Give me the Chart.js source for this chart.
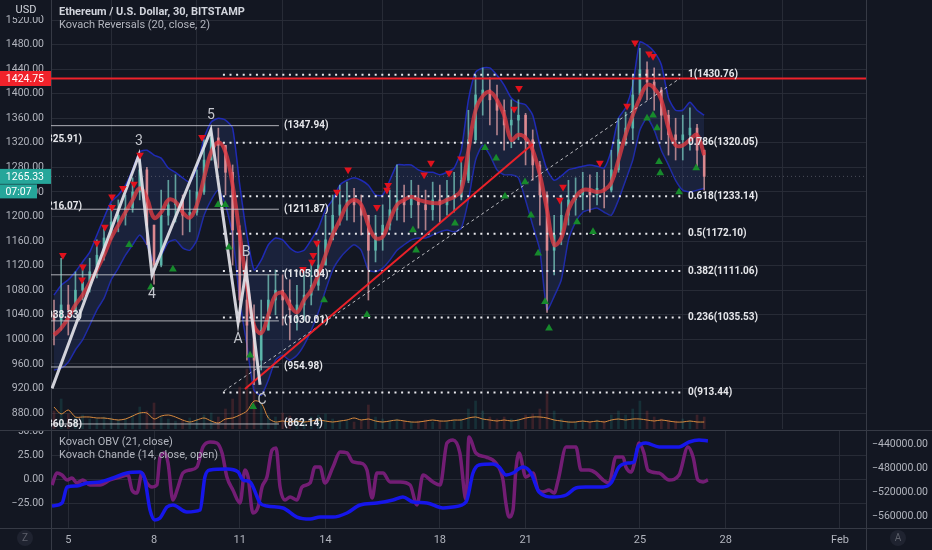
<!DOCTYPE html>
<html>
<head>
<meta charset="utf-8">
<script src="https://cdn.jsdelivr.net/npm/chart.js@4.4.1/dist/chart.umd.min.js"></script>
<style>
  html, body { margin: 0; padding: 0; background: #131722; }
  #wrap { position: relative; width: 932px; height: 550px; overflow: hidden; background: #131722; }
  #main { position: absolute; left: 0; top: 0; }
  #sub { position: absolute; left: 0; top: 430px; }
</style>
</head>
<body>
<div id="wrap">
  <canvas id="main" width="932" height="430"></canvas>
  <canvas id="sub" width="932" height="120"></canvas>
</div>
<script>
// ---- axes / categories ----
const dayTicks = [5, 8, 11, 14, 18, 21, 25, 28, 32];
const dayLabels = ['5', '8', '11', '14', '18', '21', '25', '28', 'Feb'];
const priceTicks = [880, 920, 960, 1000, 1040, 1080, 1120, 1160, 1200, 1240, 1280, 1320, 1360, 1400, 1440, 1480, 1520];
const chandeTicks = [50, 25, 0, -25];
const obvTicks = [-440000, -480000, -520000, -560000];

// ---- ETH/USD, 6h steps from Jan 4.5 ----
const firstOpen = 1040;
const closes = [1031,1056,1048,1080,1093,1110,1137,1165,1191,1202, 1214,1240,1276,1186,1121,1202,1219,1227,1202,1207,
  1240,1292,1328,1316,1272,1178,1064,1023,966,1015, 1064,1080,1064,1048,1056,1072,1088,1121,1162,1202,
  1219,1227,1219,1202,1145,1170,1186,1211,1227,1219, 1230,1219,1211,1227,1219,1230,1235,1259,1325,1398,
  1406,1390,1373,1349,1357,1365,1325,1284,1235,1145, 1170,1202,1227,1235,1243,1235,1246,1243,1276,1325,
  1344,1398,1439,1419,1406,1365,1333,1325,1333,1344, 1308,1265.33];
const highs = [1064,1132,1088,1110,1121,1132,1162,1185,1219,1227, 1235,1263,1300,1280,1186,1243,1259,1268,1235,1243,
  1276,1325,1344,1344,1316,1284,1185,1137,1056,1064, 1105,1113,1105,1097,1088,1105,1129,1162,1202,1235,
  1251,1256,1246,1235,1202,1202,1219,1243,1284,1251, 1259,1251,1243,1256,1251,1259,1272,1292,1373,1430,
  1442,1426,1414,1390,1390,1390,1368,1341,1290,1240, 1202,1235,1259,1263,1272,1268,1272,1276,1308,1360,
  1370,1430,1474,1452,1442,1410,1373,1360,1365,1377, 1350,1308];
const lows = [991,1015,1007,1044,1064,1077,1100,1129,1162,1175, 1186,1207,1227,1154,1090,1118,1186,1191,1170,1175,
  1202,1236,1292,1279,1235,1121,1028,966,926,950, 1015,1040,1023,999,1015,1031,1056,1080,1121,1162,
  1186,1194,1191,1170,1064,1126,1145,1178,1194,1191, 1198,1181,1178,1194,1191,1202,1207,1227,1255,1320,
  1365,1349,1333,1308,1312,1325,1284,1259,1186,1044, 1105,1154,1186,1202,1211,1207,1219,1214,1240,1272,
  1316,1325,1390,1390,1373,1325,1300,1292,1292,1308, 1279,1243];
const maLine = [1007,1018,1035,1056,1072,1092,1113,1137,1165,1186, 1207,1227,1246,1230,1198,1207,1227,1224,1207,1198,
  1219,1263,1305,1321,1305,1251,1170,1088,1023,1010, 1040,1072,1075,1056,1044,1064,1080,1105,1137,1170,
  1194,1219,1227,1219,1186,1165,1167,1194,1219,1227, 1232,1227,1224,1222,1222,1227,1232,1243,1308,1373,
  1396,1403,1390,1365,1325,1333,1328,1308,1268,1211, 1154,1165,1211,1232,1243,1243,1240,1243,1255,1292,
  1333,1365,1393,1414,1409,1390,1344,1316,1316,1325, 1333,1300];
const bandUpper = [1072,1088,1097,1110,1126,1142,1170,1198,1224,1235, 1251,1276,1305,1308,1300,1295,1279,1272,1263,1256,
  1279,1328,1354,1360,1357,1344,1251,1170,1113,1129, 1154,1165,1162,1149,1142,1145,1162,1181,1211,1227,
  1251,1259,1263,1259,1251,1235,1235,1259,1284,1284, 1284,1276,1272,1272,1268,1272,1279,1308,1390,1435,
  1442,1442,1430,1414,1393,1385,1382,1365,1316,1276, 1259,1266,1276,1279,1282,1284,1282,1279,1308,1360,
  1377,1414,1484,1479,1468,1447,1393,1373,1373,1386, 1373,1365];
const bandLower = [950,953,963,983,999,1023,1048,1067,1097,1116, 1137,1154,1170,1154,1126,1137,1158,1162,1149,1145,
  1162,1202,1227,1243,1219,1170,1064,991,917,909, 934,966,974,966,974,991,1015,1044,1080,1113,
  1132,1145,1154,1145,1113,1110,1116,1129,1145,1154, 1162,1165,1165,1170,1175,1178,1175,1181,1227,1292,
  1316,1300,1276,1268,1268,1263,1227,1186,1145,1048, 1070,1097,1162,1191,1207,1211,1214,1207,1202,1227,
  1259,1292,1341,1360,1341,1308,1284,1259,1243,1240, 1243,1246];
const volumes = [1800,3000,1500,1200,1400,1000, 1000,1200,1100,900,1000,1400, 2200,1800,2600,1200,1000,800,
  900,1100,1000,1400,1600,1200, 2000,3000,4200,6000,5000,2500, 1400,1200,1600,1300,1000,900,
  1200,1400,1500,1000,800,800, 700,800,2400,1200,1000,800, 1000,800,700,800,900,700,
  800,700,800,1000,2000,2800, 1800,1200,1000,1200,1000,1000, 1400,1500,2000,3800,1800,1000,
  800,700,800,700,900,800, 1400,1800,1400,2000,2800,1800, 1200,1000,900,800,1000,800, 1400,1200];
const volumeMA = [2200,1500,1900,1200,1200,1200,1100,1100,1000,900, 1000,1300,1600,1600,1000,1300,1400,1200,900,700,
  900,1100,800,600,1000,1100,1400,1800,2800,2600, 1100,700,800,700,800,700,800,900,800,700,
  800,900,1100,900,1000,800,700,800,900,800, 700,700,800,900,800,800,900,900,1100,1200,
  1000,900,800,900,800,900,1100,1200,1200,1100, 900,800,700,700,800,700,800,700,900,1000,
  900,1000,1000,900,800,900,800,700,700,800, 700,700];

// ---- Kovach Reversals markers ----
const sellDays = [4.81,5.51,5.48,6.00,6.28,6.53,6.53,6.91,7.30,7.51, 9.68,13.21,13.53,13.57,13.70,14.40,14.79,15.80,16.15,16.19,
  17.45,17.69,18.32,18.74,20.60,20.77,22.20,22.31,23.60,24.55, 24.83,25.32,25.46];
const sellPrices = [1137,1118,1097,1157,1183,1215,1232,1246,1253,1300, 1329,1114,1126,1137,1157,1240,1276,1215,1243,1251,
  1268,1287,1271,1294,1375,1409,1227,1248,1287,1380, 1483,1465,1461];
const buyDays = [7.13,7.89,8.66,10.24,10.49,10.62,11.36,11.47,13.95,15.45, 17.06,17.17,18.53,19.58,19.97,20.28,20.98,21.19,21.44,21.68,
  21.82,22.80,23.36,25.25,25.46,25.60,25.67,25.71,26.37,26.97];
const buyPrices = [1154,1085,1114,1219,1219,1150,974,890,1064,1040, 1178,1145,1189,1312,1295,1233,1256,1202,1140,1061,
  1018,1191,1175,1360,1365,1344,1289,1271,1240,1279];

// ---- drawings ----
const waveDays = [4.43, 7.47, 7.93, 9.99, 10.94, 11.22, 11.71];
const wavePrices = [920, 1300, 1105, 1341, 1027, 1113, 926];
const waveNames = ['', '3', '4', '5', 'A', 'B', 'C'];
const trendDays = [11.18, 21.25];
const trendPrices = [919, 1318];
const channelDays = [10.45, 26.40];
const channelPrices = [916, 1425];
const fibRatios = ['1', '0.786', '0.618', '0.5', '0.382', '0.236', '0'];
const fibPrices = [1430.76, 1320.05, 1233.14, 1172.10, 1111.06, 1035.53, 913.44];
const levelPrices = [1347.94, 1211.87, 1105.04, 1030.01, 954.98, 862.14];
const leftCutPrices = [1325.91, 1216.07, 1038.33, 860.58];
const alertPrice = 1424.75;
const lastPrice = 1265.33;
const countdown = '07:07';

// ---- lower pane ----
const chandeDays = [4.43,4.60,4.78,4.96,5.13,5.30,5.51,5.76,6.11,6.46, 6.81,7.09,7.23,7.40,7.58,7.75,7.93,8.10,8.21,8.38,
  8.49,8.66,8.84,9.01,9.26,9.50,9.71,9.96,10.20,10.38, 10.55,10.76,11.01,11.18,11.29,11.46,11.64,11.78,11.95,12.13,
  12.27,12.41,12.58,12.76,13.00,13.18,13.46,13.63,13.81,13.98, 14.26,14.51,14.75,14.96,15.21,15.45,15.63,15.80,16.01,16.26,
  16.61,16.96,17.20,17.41,17.76,18.01,18.25,18.46,18.70,18.92, 19.02,19.26,19.62,19.96,20.21,20.31,20.42,20.56,20.66,20.77,
  21.01,21.26,21.44,21.61,21.82,22.00,22.14,22.42,22.76,22.94, 23.22,23.46,23.71,23.92,24.16,24.41,24.51,24.69,24.86,24.97,
  25.14,25.28,25.67,26.02,26.37,26.68,26.86,27.03,27.21,27.38];
const chandeVals = [-5.9,6.5,4.4,-0.7,1.3,-3.8,-0.7,-5.9,-5.9,-0.7, 2.4,4.4,-11.1,-14.2,6.5,-3.8,-8.0,-5.9,23.0,27.2,
  16.8,-21.4,-8.0,6.5,9.6,12.7,33.4,38.6,37.5,27.2, 2.4,-11.1,-24.5,9.6,2.4,-34.8,-28.6,-8.0,2.4,30.3,
  32.3,-8.0,-21.4,-18.3,-21.4,-8.0,-3.8,12.7,12.7,-3.8, 12.7,28.2,27.2,17.9,16.8,9.6,-19.3,6.5,6.5,-2.8,
  -2.8,-5.9,-26.5,4.4,-2.8,-5.9,37.5,40.6,27.2,-21.4, 43.7,27.2,23.0,16.8,-0.7,-24.5,-38.9,-31.7,9.6,27.2,
  2.4,6.5,-11.1,-13.1,-11.1,-14.2,-0.7,33.4,33.4,9.6, 9.6,6.5,-0.7,-3.8,23.0,23.0,12.7,7.5,23.0,37.5,
  27.2,9.6,6.5,-0.7,4.4,33.4,23.0,-0.7,-2.8,-0.7];
const obvDays = [4.43,4.78,4.96,5.30,5.65,6.11,6.56,7.05,7.51,7.68, 7.86,8.03,8.21,8.45,8.66,9.15,9.61,9.78,9.96,10.55,
  10.94,11.11,11.36,11.71,11.95,12.51,13.00,13.46,13.81,14.26, 14.75,15.21,15.80,16.36,16.71,17.06,17.55,18.11,18.46,18.92,
  19.16,19.37,19.86,20.07,20.32,20.56,20.91,21.19,21.47,21.96, 22.42,22.76,23.11,23.71,23.99,24.27,24.62,24.79,24.93,25.21,
  25.67,26.37,26.72,27.07,27.38];
const obvVals = [-542600,-537600,-511000,-509400,-504400,-502700,-496100,-487800,-486100,-499400,
  -549200,-565800,-562500,-544300,-540900,-552500,-549200,-494400,-482800,-481200,
  -486100,-499400,-502700,-537600,-542600,-545900,-560900,-564200,-560900,-560900,
  -554200,-540900,-537600,-532600,-527600,-535900,-537600,-545900,-544300,-535900,
  -487800,-474500,-472900,-477800,-491100,-487800,-477800,-487800,-519300,-527600,
  -524300,-512700,-511000,-511000,-504400,-477800,-471200,-469500,-444600,-438000,
  -444600,-444600,-436300,-433000,-434600];

// ---- view ----
const xMin = 4.395, xMax = 32.911;
const fibStart = 10.41, fibEnd = 26.54, fibLabelDay = 26.68;
const levelEnd = 12.37, levelLabelDay = 12.55, leftCutDay = 5.48;

const times = closes.map((_, i) => 4.5 + i * 0.25);
const opens = closes.map((c, i) => (i === 0 ? firstOpen : closes[i - 1]));

const FONT = "Roboto, 'Noto Sans', sans-serif";
const gridColor = 'rgba(42,46,57,0.9)';
const axisColor = '#363a45';
const textColor = '#b2b5be';
Chart.defaults.font.family = FONT;
Chart.defaults.color = textColor;

const xy = (xs, ys) => xs.map((x, i) => ({ x: x, y: ys[i] }));
const span = (xs, a, b) => xs.map((x, i) => ({ x: x, y: [a[i], b[i]] }));
const hline = (p, d0, d1) => [{ x: d0, y: p }, { x: d1, y: p }];
const isUp = i => closes[i] >= opens[i];
const fit = (w, h) => s => {
  if (w !== undefined) s.width = w;
  if (h !== undefined) s.height = h;
  s.paddingTop = 0; s.paddingBottom = 0; s.paddingLeft = 0; s.paddingRight = 0;
};
const setTicks = vals => s => { s.ticks = vals.map(v => ({ value: v })); };
const fmt = v => (v < 0 ? '\u2212' : '') + Math.abs(v).toFixed(2);

function tag(ctx, text, y, w, color) {
  ctx.fillStyle = color;
  ctx.fillRect(0, y - 7.5, w, 15);
  ctx.fillStyle = '#ffffff';
  ctx.textAlign = 'right';
  ctx.textBaseline = 'middle';
  ctx.fillText(text, w - 7, y + 0.5);
}

const mainOverlay = {
  id: 'mainOverlay',
  afterDraw(chart) {
    const { ctx, chartArea: a } = chart;
    const sx = chart.scales.x, sy = chart.scales.y;
    ctx.save();
    ctx.beginPath();
    ctx.rect(a.left, a.top, a.right - a.left, a.bottom - a.top);
    ctx.clip();
    ctx.font = 'bold 10px ' + FONT;
    ctx.fillStyle = '#e6e7eb';
    ctx.textBaseline = 'middle';
    ctx.textAlign = 'right';
    leftCutPrices.forEach(p => ctx.fillText('(' + p.toFixed(2) + ')', sx.getPixelForValue(leftCutDay), sy.getPixelForValue(p)));
    ctx.textAlign = 'left';
    levelPrices.forEach(p => ctx.fillText('(' + p.toFixed(2) + ')', sx.getPixelForValue(levelLabelDay), sy.getPixelForValue(p)));
    fibRatios.forEach((r, i) => ctx.fillText(r + '(' + fibPrices[i].toFixed(2) + ')', sx.getPixelForValue(fibLabelDay), sy.getPixelForValue(fibPrices[i])));
    // wave labels
    const offs = [0, -14, 20, -14, 17, -17, 16];
    ctx.font = '14px ' + FONT;
    ctx.fillStyle = '#c3c5cc';
    ctx.textAlign = 'center';
    waveNames.forEach((t, i) => {
      if (t) ctx.fillText(t, sx.getPixelForValue(waveDays[i]) + (t === 'C' ? 2 : 0), sy.getPixelForValue(wavePrices[i]) + offs[i]);
    });
    ctx.restore();

    // legend
    ctx.save();
    ctx.textAlign = 'left';
    ctx.textBaseline = 'middle';
    ctx.font = 'bold 11px ' + FONT;
    ctx.fillStyle = '#d1d4dc';
    ctx.fillText('Ethereum / U.S. Dollar, 30, BITSTAMP', 59, 12);
    ctx.font = '11px ' + FONT;
    ctx.fillStyle = textColor;
    ctx.fillText('Kovach Reversals (20, close, 2)', 59, 25);
    // USD box
    ctx.fillStyle = '#131722';
    ctx.fillRect(12, 3, 29, 14);
    ctx.fillStyle = '#d1d4dc';
    ctx.textAlign = 'center';
    ctx.fillText('USD', 26, 10.5);
    // axis tags
    ctx.font = '10.5px ' + FONT;
    tag(ctx, alertPrice.toFixed(2), sy.getPixelForValue(alertPrice), 51, '#f0222b');
    const ly = sy.getPixelForValue(lastPrice);
    tag(ctx, lastPrice.toFixed(2), ly, 51, '#26a69a');
    ctx.fillStyle = '#26a69a';
    ctx.fillRect(0, ly + 8, 37, 14);
    ctx.fillStyle = '#ffffff';
    ctx.textAlign = 'center';
    ctx.fillText(countdown, 18.5, ly + 15.5);
    ctx.restore();
  }
};

new Chart(document.getElementById('main'), {
  type: 'line',
  data: {
    datasets: [
      { data: xy(sellDays, sellPrices), showLine: false, pointStyle: 'triangle', rotation: 180, pointRadius: 4.5,
        pointBackgroundColor: '#e0121d', pointBorderWidth: 0, order: 0 },
      { data: xy(buyDays, buyPrices), showLine: false, pointStyle: 'triangle', pointRadius: 4.5,
        pointBackgroundColor: '#178a2c', pointBorderWidth: 0, order: 0 },
      { data: xy(waveDays, wavePrices), borderColor: 'rgba(226,226,232,0.92)', borderWidth: 3, pointRadius: 0, order: 1 },
      { data: xy(trendDays, trendPrices), borderColor: '#ea2129', borderWidth: 2, pointRadius: 0, order: 2 },
      { data: xy(channelDays, channelPrices), borderColor: 'rgba(215,215,220,0.85)', borderWidth: 1, borderDash: [3, 3], pointRadius: 0, order: 2 },
      ...fibPrices.map(p => ({ data: hline(p, fibStart, fibEnd), borderColor: '#e8e8ec', borderWidth: 2, borderDash: [2, 4.6],
        pointRadius: 0, order: 3 })),
      ...levelPrices.map(p => ({ data: hline(p, xMin, levelEnd), borderColor: 'rgba(205,205,210,0.85)', borderWidth: 1,
        pointRadius: 0, order: 3 })),
      { data: hline(alertPrice, xMin, xMax), borderColor: '#f0222b', borderWidth: 2, pointRadius: 0, order: 2 },
      { data: xy(times, maLine), borderColor: 'rgba(220,58,66,0.8)', borderWidth: 4, tension: 0.4, pointRadius: 0, order: 5 },
      { type: 'bar', data: span(times, opens, closes), grouped: false, barThickness: 2, borderWidth: 0, order: 6,
        backgroundColor: c => (c.dataIndex !== undefined && isUp(c.dataIndex)) ? 'rgba(92,186,174,0.9)' : 'rgba(226,140,146,0.9)' },
      { type: 'bar', data: span(times, lows, highs), grouped: false, barThickness: 1, borderWidth: 0, order: 7,
        backgroundColor: c => (c.dataIndex !== undefined && isUp(c.dataIndex)) ? 'rgba(120,200,190,0.75)' : 'rgba(225,160,165,0.75)' },
      { data: xy(times, bandUpper), borderColor: 'rgba(34,46,215,0.8)', borderWidth: 1.5, tension: 0.2, pointRadius: 0,
        fill: '+1', backgroundColor: 'rgba(38,56,105,0.36)', order: 9 },
      { data: xy(times, bandLower), borderColor: 'rgba(34,46,215,0.8)', borderWidth: 1.5, tension: 0.2, pointRadius: 0,
        fill: false, order: 9 },
      { data: hline(lastPrice, xMin, xMax), borderColor: 'rgba(120,123,134,0.55)', borderWidth: 1, borderDash: [1, 3], pointRadius: 0, order: 8 },
      { data: xy(times, volumeMA), yAxisID: 'yVol', borderColor: '#d98a3d', borderWidth: 1, tension: 0.3, pointRadius: 0, order: 9 },
      { type: 'bar', data: xy(times, volumes), yAxisID: 'yVol', grouped: false, barThickness: 2, borderWidth: 0, order: 10,
        backgroundColor: c => (c.dataIndex !== undefined && isUp(c.dataIndex)) ? 'rgba(38,166,154,0.18)' : 'rgba(239,83,80,0.18)' }
    ]
  },
  options: {
    responsive: false,
    animation: false,
    events: [],
    layout: { autoPadding: false, padding: 0 },
    plugins: { legend: { display: false }, tooltip: { enabled: false } },
    scales: {
      x: {
        type: 'linear', min: xMin, max: xMax, offset: false,
        afterBuildTicks: setTicks(dayTicks), afterFit: fit(undefined, 1),
        ticks: { display: false }, grid: { color: gridColor, drawTicks: false }, border: { display: false }
      },
      y: {
        position: 'left', min: 853.97, max: 1552.57,
        afterBuildTicks: setTicks(priceTicks), afterFit: fit(51),
        ticks: { callback: v => fmt(v), padding: 7, autoSkip: false, font: { size: 10.5 }, color: textColor },
        grid: { color: gridColor, drawTicks: false }, border: { color: axisColor }
      },
      yR: {
        position: 'right', min: 853.97, max: 1552.57, afterFit: fit(66),
        ticks: { display: false }, grid: { drawOnChartArea: false, drawTicks: false }, border: { color: axisColor }
      },
      yVol: { display: false, min: 0, max: 42900 }
    }
  },
  plugins: [mainOverlay]
});

// ---- lower pane ----
const subOverlay = {
  id: 'subOverlay',
  afterDraw(chart) {
    const { ctx, chartArea: a } = chart;
    ctx.save();
    ctx.strokeStyle = axisColor;
    ctx.lineWidth = 1;
    ctx.beginPath();
    ctx.moveTo(0, 0.5); ctx.lineTo(932, 0.5);
    ctx.moveTo(0, a.bottom + 0.5); ctx.lineTo(932, a.bottom + 0.5);
    ctx.moveTo(a.left + 0.5, a.bottom); ctx.lineTo(a.left + 0.5, 120);
    ctx.moveTo(a.right + 0.5, a.bottom); ctx.lineTo(a.right + 0.5, 120);
    ctx.stroke();
    ctx.textAlign = 'left';
    ctx.textBaseline = 'middle';
    ctx.font = '11px ' + FONT;
    ctx.fillStyle = textColor;
    ctx.fillText('Kovach OBV (21, close)', 59, 12);
    ctx.fillText('Kovach Chande (14, close, open)', 59, 25);
    [[25, 'Z'], [898, 'A']].forEach(([cx, t]) => {
      ctx.fillStyle = '#1f2330';
      ctx.beginPath(); ctx.arc(cx, 108, 8, 0, Math.PI * 2); ctx.fill();
      ctx.fillStyle = '#5d606b';
      ctx.textAlign = 'center';
      ctx.font = '10px ' + FONT;
      ctx.fillText(t, cx, 108.5);
    });
    ctx.restore();
  }
};

new Chart(document.getElementById('sub'), {
  type: 'line',
  data: {
    datasets: [
      { data: xy(obvDays, obvVals), yAxisID: 'yO', borderColor: '#1616ea', borderWidth: 3.5,
        cubicInterpolationMode: 'monotone', pointRadius: 0 },
      { data: xy(chandeDays, chandeVals), yAxisID: 'yC', borderColor: 'rgba(124,30,124,0.92)', borderWidth: 3.5,
        cubicInterpolationMode: 'monotone', pointRadius: 0 }
    ]
  },
  options: {
    responsive: false,
    animation: false,
    events: [],
    layout: { autoPadding: false, padding: 0 },
    plugins: { legend: { display: false }, tooltip: { enabled: false } },
    scales: {
      x: {
        type: 'linear', min: xMin, max: xMax, offset: false,
        afterBuildTicks: setTicks(dayTicks), afterFit: fit(undefined, 22),
        ticks: { callback: v => dayLabels[dayTicks.indexOf(v)], padding: 6, maxRotation: 0, autoSkip: false,
          font: { size: 11 }, color: textColor },
        grid: { color: gridColor, drawTicks: false }, border: { color: axisColor }
      },
      yC: {
        position: 'left', min: -50.31, max: 50.93,
        afterBuildTicks: setTicks(chandeTicks), afterFit: fit(51),
        ticks: { callback: v => fmt(v), padding: 7, autoSkip: false, font: { size: 10.5 }, color: textColor },
        grid: { color: gridColor, drawTicks: false }, border: { color: axisColor }
      },
      yO: {
        position: 'right', min: -579102, max: -416422,
        afterBuildTicks: setTicks(obvTicks), afterFit: fit(66),
        ticks: { callback: v => fmt(v), padding: 6, autoSkip: false, font: { size: 10.5 }, color: textColor },
        grid: { drawOnChartArea: false, drawTicks: false }, border: { color: axisColor }
      }
    }
  },
  plugins: [subOverlay]
});
</script>
</body>
</html>
